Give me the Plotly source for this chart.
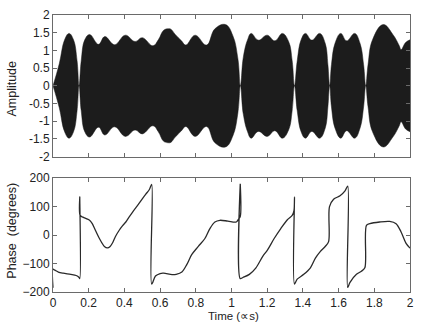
import plotly.graph_objects as go
from plotly.subplots import make_subplots

# Envelope of the fast carrier signal (upper half; the lower half mirrors it)
env_time = [0.000, 0.035, 0.065, 0.090, 0.115, 0.135, 0.146, 0.158, 0.178, 0.205,
            0.255, 0.290, 0.345, 0.405, 0.460, 0.500, 0.560, 0.590, 0.620, 0.645,
            0.660, 0.685, 0.720, 0.744, 0.796, 0.860, 0.907, 0.966, 1.008, 1.036,
            1.050, 1.066, 1.090, 1.110, 1.150, 1.200, 1.243, 1.285, 1.320, 1.340,
            1.353, 1.368, 1.390, 1.414, 1.450, 1.494, 1.525, 1.540, 1.550, 1.560,
            1.580, 1.612, 1.645, 1.690, 1.720, 1.740, 1.752, 1.765, 1.790, 1.850,
            1.904, 1.940, 1.950, 1.975, 2.000]
env_amp = [0.00, 0.62, 1.30, 1.48, 1.30, 0.70, 0.00, 0.70, 1.30, 1.45,
           1.17, 1.39, 1.16, 1.43, 1.25, 1.36, 1.13, 1.30, 1.57, 1.61,
           1.60, 1.45, 1.27, 1.15, 1.43, 1.15, 1.61, 1.73, 1.41, 0.76,
           0.00, 0.80, 1.30, 1.48, 1.29, 1.43, 1.27, 1.48, 1.25, 0.70,
           0.00, 0.70, 1.30, 1.48, 1.29, 1.48, 1.20, 0.60, 0.00, 0.60,
           1.20, 1.48, 1.27, 1.48, 1.20, 0.60, 0.00, 0.60, 1.30, 1.73,
           1.45, 1.13, 1.02, 1.22, 1.30]

# Phase of the signal in degrees (repeated times mark the wrap jumps)
phase_time = [0.000, 0.000, 0.010, 0.030, 0.057, 0.100, 0.130, 0.145, 0.150, 0.150,
              0.152, 0.168, 0.190, 0.205, 0.220, 0.233, 0.260, 0.288, 0.305, 0.320,
              0.334, 0.350, 0.371, 0.390, 0.408, 0.425, 0.445, 0.482, 0.519, 0.540,
              0.553, 0.553, 0.574, 0.600, 0.620, 0.667, 0.690, 0.722, 0.750, 0.777,
              0.814, 0.851, 0.879, 0.907, 0.935, 0.980, 1.027, 1.040, 1.049, 1.049,
              1.049, 1.064, 1.100, 1.137, 1.175, 1.202, 1.239, 1.276, 1.313, 1.340,
              1.350, 1.353, 1.353, 1.368, 1.405, 1.442, 1.470, 1.497, 1.525, 1.544,
              1.549, 1.572, 1.608, 1.636, 1.651, 1.651, 1.663, 1.700, 1.728, 1.747,
              1.756, 1.775, 1.830, 1.886, 1.922, 1.950, 1.978, 2.000]
phase_deg = [-185, -120, -123, -130, -134, -138, -142, -148, -153, 134,
             69, 63, 57, 52, 40, 23, -12, -40, -45, -40,
             -27, -5, 17, 33, 46, 62, 80, 111, 143, 160,
             178, -172, -144, -135, -134, -139, -138, -130, -103, -69,
             -40, -12, 23, 46, 52, 49, 46, 57, 65, 180,
             -153, -149, -138, -115, -75, -52, -12, 23, 54, 69,
             86, 134, -172, -155, -138, -115, -81, -58, -40, -23,
             100, 126, 138, 155, 172, -184, -167, -138, -127, -115,
             34, 40, 46, 48, 40, 11, -29, -46]

time_ticks = [0, 0.2, 0.4, 0.6, 0.8, 1, 1.2, 1.4, 1.6, 1.8, 2]
time_labels = ["0", "0.2", "0.4", "0.6", "0.8", "1", "1.2", "1.4", "1.6", "1.8", "2"]
amp_ticks = [-2, -1.5, -1, -0.5, 0, 0.5, 1, 1.5, 2]
phase_ticks = [-200, -100, 0, 100, 200]

FONT = "Liberation Sans, Arial, sans-serif"
INK = "#1c1c1c"

fig = make_subplots(rows=2, cols=1, shared_xaxes=False, vertical_spacing=0.0)

# filled amplitude band: lower edge first, upper edge fills down to it
fig.add_trace(go.Scatter(x=env_time, y=[-a for a in env_amp], mode="lines",
                         line=dict(color=INK, width=0.5, shape="spline", smoothing=1.2),
                         hoverinfo="skip", showlegend=False), row=1, col=1)
fig.add_trace(go.Scatter(x=env_time, y=env_amp, mode="lines", fill="tonexty",
                         fillcolor=INK,
                         line=dict(color=INK, width=0.5, shape="spline", smoothing=1.2),
                         hoverinfo="skip", showlegend=False), row=1, col=1)

fig.add_trace(go.Scatter(x=phase_time, y=phase_deg, mode="lines",
                         line=dict(color="#2a2a2a", width=1.3, shape="spline", smoothing=0.9),
                         showlegend=False), row=2, col=1)

axis_common = dict(showline=True, linecolor="#6a6a6a", linewidth=1, mirror="ticks",
                   ticks="inside", ticklen=4, tickcolor="#6a6a6a", showgrid=False,
                   zeroline=False, tickfont=dict(family=FONT, size=12, color="#222"))

fig.update_layout(
    width=422, height=328,
    margin=dict(l=53, r=8, t=10, b=36),
    paper_bgcolor="white", plot_bgcolor="white",
    font=dict(family=FONT, size=12, color="#222"),
    xaxis=dict(domain=[0, 1], range=[0, 2], tickvals=time_ticks,
               showticklabels=False, anchor="y", **axis_common),
    yaxis=dict(domain=[0.489, 1.0], range=[-2, 2], tickvals=amp_ticks,
               ticktext=[f"{v:g}" for v in amp_ticks], anchor="x", **axis_common),
    xaxis2=dict(domain=[0, 1], range=[0, 2], tickvals=time_ticks, ticktext=time_labels,
                anchor="y2", **axis_common),
    yaxis2=dict(domain=[0.0, 0.411], range=[-200, 200], tickvals=phase_ticks,
                anchor="x2", **axis_common),
    annotations=[
        dict(text="Amplitude", xref="paper", yref="paper", x=-0.1136, y=0.736,
             textangle=-90, showarrow=False, xanchor="center", yanchor="middle",
             font=dict(family=FONT, size=12.5, color="#222")),
        dict(text="Phase  (degrees)", xref="paper", yref="paper", x=-0.1136, y=0.223,
             textangle=-90, showarrow=False, xanchor="center", yanchor="middle",
             font=dict(family=FONT, size=12.5, color="#222")),
        dict(text="Time (\u221ds)", xref="paper", yref="paper", x=0.507, y=-0.086,
             showarrow=False, xanchor="center", yanchor="middle",
             font=dict(family=FONT, size=11.5, color="#222")),
    ],
)

fig.write_html("out.html")
